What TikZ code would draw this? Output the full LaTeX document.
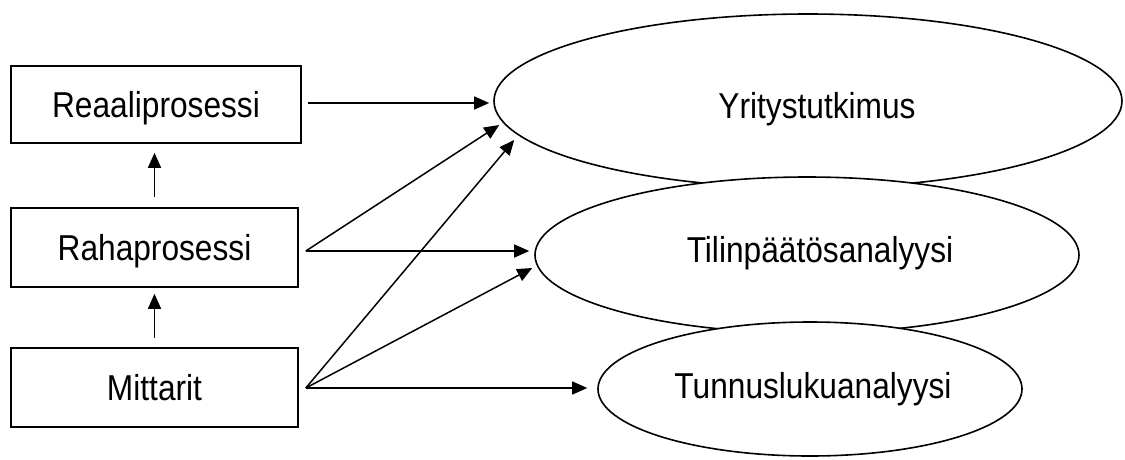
\documentclass[tikz,border=0pt]{standalone}
\usepackage{fontspec}
\setmainfont{Liberation Sans}[FakeStretch=0.88]
\usetikzlibrary{arrows.meta,shapes.geometric}
\begin{document}
\begin{tikzpicture}[x=1pt,y=-1pt,
  box/.style={draw, line width=1.6pt, rectangle, inner sep=0pt, text height=26pt, text depth=0pt, font=\fontsize{36}{40}\selectfont},
  ell/.style={draw, line width=1.6pt, ellipse, fill=white, inner sep=0pt},
  lbl/.style={anchor=base, inner sep=0pt, font=\fontsize{36}{40}\selectfont},
  arr/.style={line width=1.5pt, -{Triangle[length=15pt,width=13pt]}}]
\useasboundingbox (0,0) rectangle (1125,459);
% boxes
\node[box, minimum width=290pt, minimum height=77pt] (reaali) at (156,104.5) {Reaaliprosessi};
\node[box, minimum width=287pt, minimum height=79pt] (raha) at (154.5,247.5) {Rahaprosessi};
\node[box, minimum width=287pt, minimum height=79pt] (mitt) at (154.5,387.5) {Mittarit};
% ellipses
\node[ell, minimum width=628pt, minimum height=174pt] (yrit) at (808,101) {};
\node[lbl] (yrittxt) at (817,118) {Yritystutkimus};
\node[ell, minimum width=544pt, minimum height=156pt] (tilin) at (807,255) {};
\node[lbl] (tilintxt) at (820,262) {Tilinpäätösanalyysi};
\node[ell, minimum width=424pt, minimum height=134pt] (tunnus) at (810,389) {};
\node[lbl] (tunnustxt) at (813,398) {Tunnuslukuanalyysi};
% connector ends
\coordinate (rs) at ([shift={(6,-1.5)}]reaali.east);
\coordinate (rahas) at ([shift={(7,3.5)}]raha.east);
\coordinate (mitts) at ([shift={(7,0.5)}]mitt.east);
\coordinate (y1) at ([shift={(-4,2)}]yrit.west);
\coordinate (y2) at ([shift={(6,24)}]yrit.west);
\coordinate (y3) at ([shift={(21,39)}]yrit.west);
\coordinate (t1) at ([shift={(-5,-4)}]tilin.west);
\coordinate (t2) at ([shift={(-2,13)}]tilin.west);
\coordinate (u1) at ([shift={(-10,-1)}]tunnus.west);
% arrows
\draw[arr] (rs) -- (y1);
\draw[arr] (rahas) -- (y2);
\draw[arr] (mitts) -- (y3);
\draw[arr] (rahas) -- (t1);
\draw[arr] (mitts) -- (t2);
\draw[arr] (mitts) -- (u1);
\draw[arr] ([yshift=10pt]raha.north) -- ([yshift=-9pt]raha.north |- reaali.south);
\draw[arr] ([yshift=9pt]mitt.north) -- ([yshift=-6pt]mitt.north |- raha.south);
\end{tikzpicture}
\end{document}
